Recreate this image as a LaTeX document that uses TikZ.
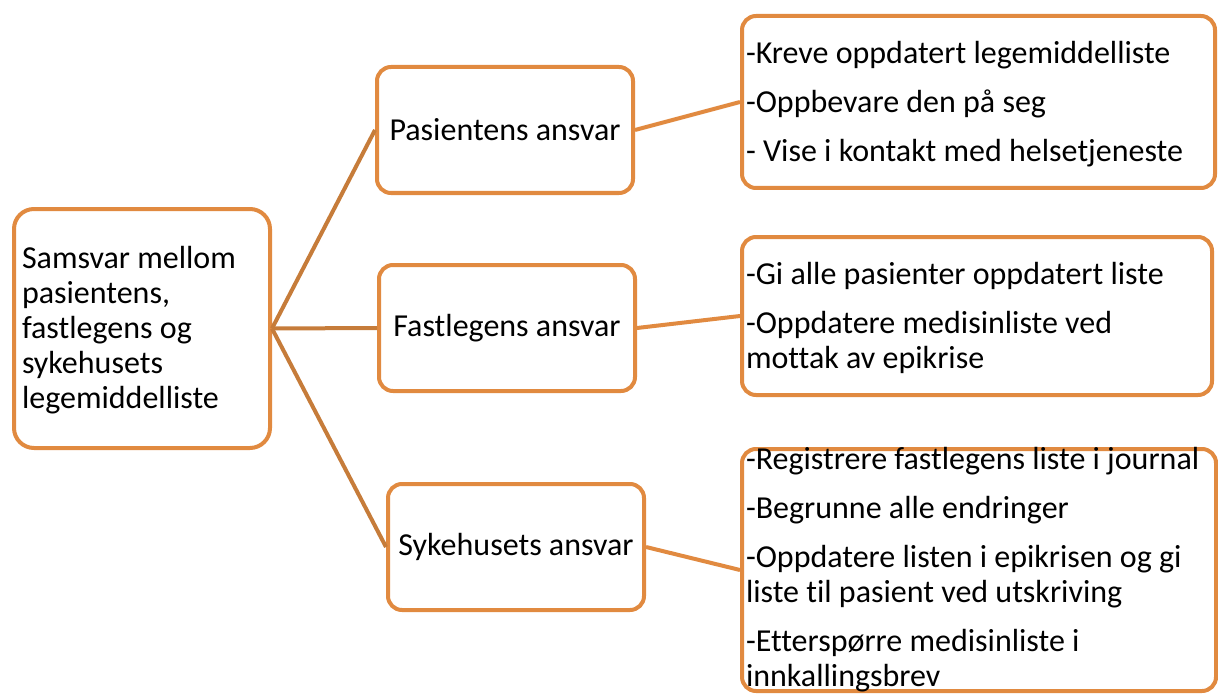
\documentclass[tikz,border=0pt]{standalone}
\usepackage{fontspec}
\setmainfont{Carlito}[Ligatures=NoCommon]
\definecolor{boxorange}{RGB}{225,138,64}
\definecolor{linebrown}{RGB}{198,124,58}
\tikzset{
  box/.style={draw=boxorange, line width=2pt, rounded corners=7pt, fill=white,
    inner sep=0pt, font=\fontsize{16pt}{17.5pt}\selectfont},
  ansvarbox/.style={box, minimum width=128pt, minimum height=63pt, align=center},
  rootline/.style={draw=linebrown, line width=2pt},
  listline/.style={draw=boxorange, line width=2pt}
}
\begin{document}
\begin{tikzpicture}[x=0.5pt,y=-0.5pt]
	\useasboundingbox (0,0) rectangle (1218,695);
	% root
	\node[box, rounded corners=10pt, minimum width=128pt, minimum height=119.5pt] (samsvar) at (142,328.5)
		{\parbox[c][119.5pt][c]{120pt}{\raggedright\vspace*{2pt}Samsvar mellom\\ pasientens,\\ fastlegens og\\ sykehusets\\ legemiddelliste}};
	
	% middle column
	\node[ansvarbox] (pasient) at (505,130) {Pasientens ansvar};
	\node[ansvarbox] (fastlege) at (507,328) {Fastlegens ansvar};
	\node[ansvarbox] (sykehus) at (516,547) {Sykehusets ansvar};
	
	% right column
	\node[box, minimum width=236.5pt, minimum height=86pt] (pasientliste) at (978.5,102)
		{\parbox[c][86pt][c]{232.5pt}{\raggedright\vspace*{2pt}-Kreve oppdatert legemiddelliste\\[7pt]
		-Oppbevare den på seg\\[7pt]
		- Vise i kontakt med helsetjeneste}};
	\node[box, minimum width=235pt, minimum height=79pt] (fastlegeliste) at (977,316)
		{\parbox[c][79pt][c]{231pt}{\raggedright\vspace*{2pt}-Gi alle pasienter oppdatert liste\\[7pt]
		-Oppdatere medisinliste ved\\ mottak av epikrise}};
	\node[box, minimum width=237pt, minimum height=121pt] (sykehusliste) at (979,570)
		{\parbox[c][121pt][c]{233pt}{\raggedright -Registrere fastlegens liste i journal\\[7pt]
		-Begrunne alle endringer\\[7pt]
		-Oppdatere listen i epikrisen og gi\\ liste til pasient ved utskriving\\[7pt]
		-Etterspørre medisinliste i\\ innkallingsbrev}};
	
	\draw[rootline] (samsvar.east) -- (pasient.west);
	\draw[rootline] (samsvar.east) -- (fastlege.west);
	\draw[rootline] (samsvar.east) -- (sykehus.west);
	\draw[listline] (pasient.east) -- (pasientliste.west);
	\draw[listline] (fastlege.east) -- (fastlegeliste.west);
	\draw[listline] (sykehus.east) -- (sykehusliste.west);
\end{tikzpicture}
\end{document}
